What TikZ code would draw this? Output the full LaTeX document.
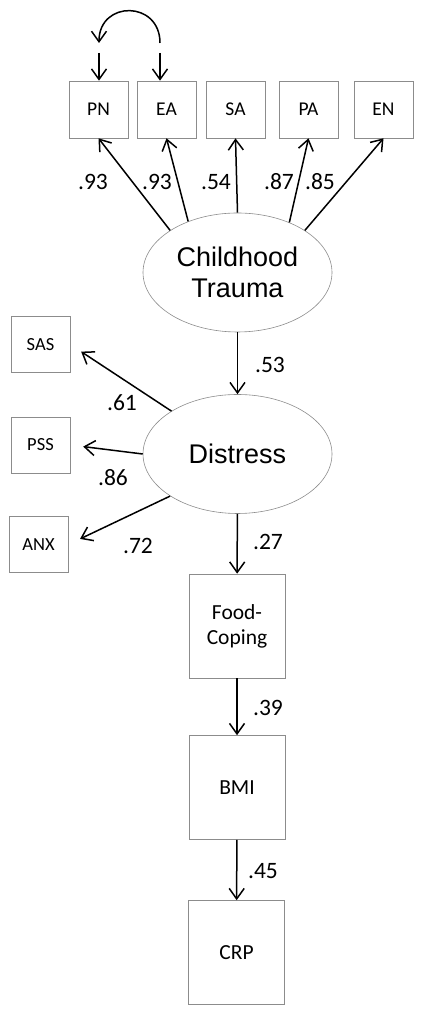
\documentclass[tikz,border=0pt]{standalone}
\usepackage{fontspec}
\setmainfont{Carlito}
\newfontfamily\arialfont{Liberation Sans}
\usetikzlibrary{arrows.meta,shapes.geometric}

\begin{document}
\begin{tikzpicture}[x=1pt, y=1pt,
    obs/.style={draw=black!45, line width=0.6pt, inner sep=0pt, align=center},
    ind/.style={obs, minimum width=59pt, minimum height=57pt, font=\fontsize{19.5}{22}\selectfont},
    side/.style={obs, minimum width=59pt, minimum height=56pt, font=\fontsize{18.5}{22}\selectfont},
    outc/.style={obs, minimum width=96pt, minimum height=104pt, font=\fontsize{21.5}{25}\selectfont},
    latent/.style={ellipse, draw=black!45, line width=0.6pt, minimum width=189pt, minimum height=119pt, inner sep=0pt, align=center, font=\arialfont\fontsize{27}{31}\selectfont},
    coef/.style={inner sep=0pt, font=\fontsize{23.5}{26}\selectfont},
    arr/.style={-{Straight Barb[length=10.5pt,width=15pt]}, line width=1.5pt}]
    \useasboundingbox (0,0) rectangle (422,1014);

    % indicators of trauma
    \node[ind] (PN) at (98.5,904.5) {PN};
    \node[ind] (EA) at (166.5,904.5) {EA};
    \node[ind] (SA) at (235.5,904.5) {SA};
    \node[ind] (PA) at (308.5,904.5) {PA};
    \node[ind] (EN) at (383.5,904.5) {EN};

    \node[latent] (trauma) at (237.5,741.5) {Childhood\\Trauma};
    \node[latent] (distress) at (237.5,560) {Distress};

    % indicators of distress
    \node[side] (SAS) at (40.5,669.5) {SAS};
    \node[side] (PSS) at (40.5,569) {PSS};
    \node[side] (ANX) at (38.5,469.5) {ANX};

    \node[outc] (food) at (237,388) {Food-\\Coping};
    \node[outc] (BMI) at (237,226.5) {BMI};
    \node[outc] (CRP) at (236.5,61.5) {CRP};

    % correlated errors
    \coordinate (ePN) at (99,961);
    \coordinate (eEA) at (160,961);
    \coordinate (cPN) at (99,971);
    \coordinate (cEA) at (160,971);
    \draw[arr] (ePN) -- (ePN |- PN.north);
    \draw[arr] (eEA) -- (eEA |- EA.north);
    \draw[arr, {Straight Barb[length=10.5pt,width=15pt]}-] (cPN) to[out=90, in=90, looseness=1.8] (cEA);

    \draw[arr] (trauma.148) -- (PN.south);
    \draw[arr] (trauma.134) -- (EA.south);
    \draw[arr] (trauma.90) -- (SA.south);
    \draw[arr] (trauma.44) -- (PA.south);
    \draw[arr] (trauma.32) -- (EN.south);

    \draw[arr] (trauma) -- (distress);
    \draw[arr, shorten >=13pt] (distress.147) -- (SAS.east);
    \draw[arr, shorten >=13pt] (distress.180) -- (PSS.east);
    \draw[arr, shorten >=13pt] (distress.212) -- (ANX.east);
    \draw[arr] (distress) -- (food);
    \draw[arr] (food) -- (BMI);
    \draw[arr] (BMI) -- (CRP);

    % loadings and paths
    \node[coef] (kPN) at (93,832) {.93};
    \node[coef] (kEA) at (157,832) {.93};
    \node[coef] (kSA) at (216,832) {.54};
    \node[coef] (kPA) at (279,832) {.87};
    \node[coef] (kEN) at (320,832) {.85};
    \node[coef] (kDis) at (270,649) {.53};
    \node[coef] (kSAS) at (122,611) {.61};
    \node[coef] (kPSS) at (113,536) {.86};
    \node[coef] (kANX) at (138,468) {.72};
    \node[coef] (kFood) at (268,472) {.27};
    \node[coef] (kBMI) at (268,306) {.39};
    \node[coef] (kCRP) at (263,143) {.45};
\end{tikzpicture}
\end{document}
